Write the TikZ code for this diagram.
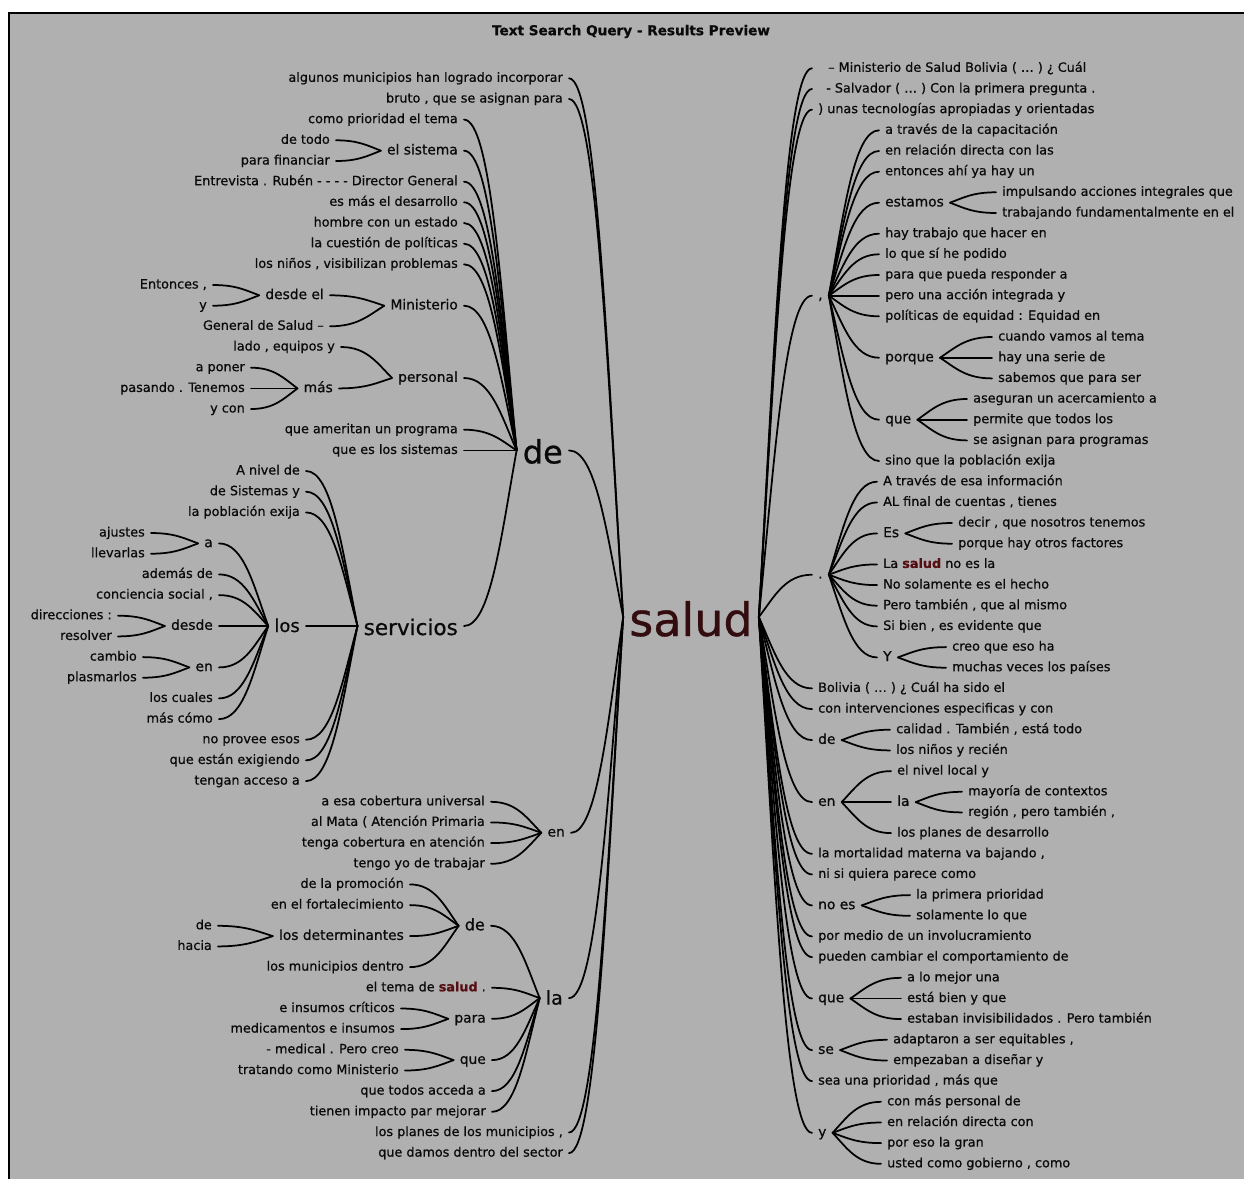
\documentclass[tikz,border=0pt]{standalone}
\usepackage{fontspec}
\setmainfont{DejaVu Sans}[FakeBold=0.7]
\usetikzlibrary{calc}
\definecolor{bg}{RGB}{176,176,176}
\definecolor{ink}{RGB}{10,10,10}
\definecolor{saludc}{RGB}{50,12,14}
\definecolor{saludin}{RGB}{85,14,18}
\newcommand\Lcon[2]{\draw[conn] (#1.east) to (#2.west);}
\newcommand\Rcon[2]{\draw[conn] (#1.west) to (#2.east);}
\newcommand\salin{{\bfseries\color{saludin}salud}}
\tikzset{
  wt/.style={to path={let \p1=(\tikztostart), \p2=(\tikztotarget) in
     .. controls ({\x1+0.5*(\x2-\x1)},\y1) and ({\x2-0.3*(\x2-\x1)},{\y2-0.5*(\y2-\y1)}) .. (\tikztotarget)}},
  conn/.style={wt, line width=1.75pt, draw=black, line cap=round},
  txt/.style={text=ink, inner xsep=6pt, inner ysep=1pt, text depth=0pt},
  leaf/.style={txt, font=\fontsize{12.8}{15}\selectfont, text height=7pt},
  mid/.style={txt, font=\fontsize{13.8}{16}\selectfont, text height=7.5pt},
  L/.style={anchor=east}, R/.style={anchor=west},
  bigsalud/.style={txt, text=saludc, font=\fontsize{46}{50}\selectfont, text height=38pt},
  bigde/.style={txt, font=\fontsize{32}{36}\selectfont, text height=26pt},
  bigserv/.style={txt, font=\fontsize{21.5}{24}\selectfont, text height=18pt},
  biglos/.style={txt, font=\fontsize{18}{20}\selectfont, text height=12pt},
  bigla/.style={txt, font=\fontsize{19}{21}\selectfont, text height=13pt},
  midde/.style={txt, font=\fontsize{16}{18}\selectfont, text height=9pt},
}
\begin{document}
\begin{tikzpicture}[x=1pt,y=-1pt]
\useasboundingbox (0,0) rectangle (1244,1179);
\fill[white] (0,0) rectangle (1244,1179);
\fill[bg] (9,13) rectangle (1244,1179);
\draw[line width=1.5pt] (9,1179) -- (9,13) -- (1244,13);
\node[font=\bfseries\fontsize{13.6}{16}\selectfont, text=ink] (title) at (631,31.5) {Text Search Query - Results Preview};

% ---------- centre
\node[bigsalud] (salud) at (691,617) {salud};

% ---------- left side
\node[leaf,L] (lA) at (569,78.3) {algunos municipios han logrado incorporar};
\node[leaf,L] (lB) at (569,99.0) {bruto , que se asignan para};
\node[bigde,L] (de) at (569,450.4) {de};
\node[mid,L] (en) at (571,832.8) {en};
\node[bigla,L] (la) at (569,998.1) {la};
\node[leaf,L] (lC) at (569,1132.5) {los planes de los municipios ,};
\node[leaf,L] (lD) at (569,1153.1) {que damos dentro del sector};

% de children
\node[leaf,L] (dA) at (464,119.6) {como prioridad el tema};
\node[mid,L] (sis) at (464,150.7) {el sistema};
\node[leaf,L] (sisA) at (336,140.3) {de todo};
\node[leaf,L] (sisB) at (336,161.0) {para financiar};
\node[leaf,L] (dB) at (464,181.7) {Entrevista . Rubén - - - - Director General};
\node[leaf,L] (dC) at (464,202.3) {es más el desarrollo};
\node[leaf,L] (dD) at (464,223.0) {hombre con un estado};
\node[leaf,L] (dE) at (464,243.7) {la cuestión de políticas};
\node[leaf,L] (dF) at (464,264.3) {los niños , visibilizan problemas};
\node[mid,L] (min) at (464,305.7) {Ministerio};
\node[mid,L] (desel) at (330,295.3) {desde el};
\node[leaf,L] (deselA) at (213,285.0) {Entonces ,};
\node[leaf,L] (deselB) at (213,305.7) {y};
\node[leaf,L] (minB) at (330,326.3) {General de Salud –};
\node[mid,L] (per) at (464,378.0) {personal};
\node[leaf,L] (perA) at (341,347.0) {lado , equipos y};
\node[mid,L] (mas) at (339,388.4) {más};
\node[leaf,L] (masA) at (251,367.7) {a poner};
\node[leaf,L] (masB) at (251,388.4) {pasando . Tenemos};
\node[leaf,L] (masC) at (251,409.0) {y con};
\node[leaf,L] (dG) at (464,429.7) {que ameritan un programa};
\node[leaf,L] (dH) at (464,450.4) {que es los sistemas};
\node[bigserv,L] (serv) at (464,626) {servicios};
\node[leaf,L] (svA) at (306,471.0) {A nivel de};
\node[leaf,L] (svB) at (306,491.7) {de Sistemas y};
\node[leaf,L] (svC) at (306,512.4) {la población exija};
\node[biglos,L] (los) at (306,626) {los};
\node[mid,L] (a) at (219,543.4) {a};
\node[leaf,L] (aA) at (151,533.0) {ajustes};
\node[leaf,L] (aB) at (151,553.7) {llevarlas};
\node[leaf,L] (losB) at (219,574.4) {además de};
\node[leaf,L] (losC) at (219,595.1) {conciencia social ,};
\node[mid,L] (desde) at (219,626) {desde};
\node[leaf,L] (dsA) at (118,615.7) {direcciones :};
\node[leaf,L] (dsB) at (118,636.4) {resolver};
\node[mid,L] (enl) at (219,667.4) {en};
\node[leaf,L] (enA) at (143,657.1) {cambio};
\node[leaf,L] (enB) at (143,677.7) {plasmarlos};
\node[leaf,L] (losD) at (219,698.4) {los cuales};
\node[leaf,L] (losE) at (219,719.1) {más cómo};
\node[leaf,L] (svD) at (306,739.7) {no provee esos};
\node[leaf,L] (svE) at (306,760.4) {que están exigiendo};
\node[leaf,L] (svF) at (306,781.1) {tengan acceso a};

% en children
\node[leaf,L] (enS1) at (491,801.8) {a esa cobertura universal};
\node[leaf,L] (enS2) at (491,822.4) {al Mata ( Atención Primaria};
\node[leaf,L] (enS3) at (491,843.1) {tenga cobertura en atención};
\node[leaf,L] (enS4) at (491,863.8) {tengo yo de trabajar};

% la children
\node[midde,L] (lade) at (491,925.8) {de};
\node[leaf,L] (ldA) at (410,884.4) {de la promoción};
\node[leaf,L] (ldB) at (410,905.1) {en el fortalecimiento};
\node[mid,L] (det) at (410,936.1) {los determinantes};
\node[leaf,L] (detA) at (218,925.8) {de};
\node[leaf,L] (detB) at (218,946.4) {hacia};
\node[leaf,L] (ldC) at (410,967.1) {los municipios dentro};
\node[leaf,L] (laA) at (492,987.8) {el tema de \salin\ .};
\node[mid,L] (para) at (492,1018.8) {para};
\node[leaf,L] (paA) at (401,1008.5) {e insumos críticos};
\node[leaf,L] (paB) at (401,1029.1) {medicamentos e insumos};
\node[mid,L] (que) at (492,1060.1) {que};
\node[leaf,L] (quA) at (405,1049.8) {- medical . Pero creo};
\node[leaf,L] (quB) at (405,1070.5) {tratando como Ministerio};
\node[leaf,L] (laB) at (492,1091.1) {que todos acceda a};
\node[leaf,L] (laC) at (492,1111.8) {tienen impacto par mejorar};

% ---------- right side
\node[leaf,R] (rA) at (812,68.3) {\hspace*{10pt}– Ministerio de Salud Bolivia ( … ) ¿ Cuál};
\node[leaf,R] (rB) at (812,89.0) {\hspace*{8pt}- Salvador ( … ) Con la primera pregunta .};
\node[leaf,R] (rC) at (812,109.6) {) unas tecnologías apropiadas y orientadas};
\node[mid,R] (comma) at (812,295.7) {,};
\node[leaf,R] (cA) at (879,130.3) {a través de la capacitación};
\node[leaf,R] (cB) at (879,151.0) {en relación directa con las};
\node[leaf,R] (cC) at (879,171.7) {entonces ahí ya hay un};
\node[mid,R] (est) at (879,202.7) {estamos};
\node[leaf,R] (esA) at (996,192.3) {impulsando acciones integrales que};
\node[leaf,R] (esB) at (996,213.0) {trabajando fundamentalmente en el};
\node[leaf,R] (cD) at (879,233.7) {hay trabajo que hacer en};
\node[leaf,R] (cE) at (879,254.3) {lo que sí he podido};
\node[leaf,R] (cF) at (879,275.0) {para que pueda responder a};
\node[leaf,R] (cG) at (879,295.7) {pero una acción integrada y};
\node[leaf,R] (cH) at (879,316.3) {políticas de equidad : Equidad en};
\node[mid,R] (porq) at (879,357.7) {porque};
\node[leaf,R] (pqA) at (992,337.0) {cuando vamos al tema};
\node[leaf,R] (pqB) at (992,357.7) {hay una serie de};
\node[leaf,R] (pqC) at (992,378.4) {sabemos que para ser};
\node[mid,R] (cque) at (879,419.7) {que};
\node[leaf,R] (cqA) at (967,399.0) {aseguran un acercamiento a};
\node[leaf,R] (cqB) at (967,419.7) {permite que todos los};
\node[leaf,R] (cqC) at (967,440.4) {se asignan para programas};
\node[leaf,R] (cI) at (879,461.0) {sino que la población exija};
\node[mid,R] (dot) at (812,574.7) {.};
\node[leaf,R] (pA) at (877,481.7) {A través de esa información};
\node[leaf,R] (pB) at (877,502.4) {AL final de cuentas , tienes};
\node[mid,R] (Es) at (877,533.4) {Es};
\node[leaf,R] (EsA) at (952,523.0) {decir , que nosotros tenemos};
\node[leaf,R] (EsB) at (952,543.7) {porque hay otros factores};
\node[leaf,R] (pC) at (877,564.4) {La \salin\ no es la};
\node[leaf,R] (pD) at (877,585.1) {No solamente es el hecho};
\node[leaf,R] (pE) at (877,605.7) {Pero también , que al mismo};
\node[leaf,R] (pF) at (877,626.4) {Si bien , es evidente que};
\node[mid,R] (Y) at (877,657.4) {Y};
\node[leaf,R] (YA) at (946,647.1) {creo que eso ha};
\node[leaf,R] (YB) at (946,667.7) {muchas veces los países};
\node[leaf,R] (rD) at (812,688.4) {Bolivia ( … ) ¿ Cuál ha sido el};
\node[leaf,R] (rE) at (812,709.1) {con intervenciones especificas y con};
\node[mid,R] (rde) at (812,740.1) {de};
\node[leaf,R] (rdA) at (890,729.7) {calidad . También , está todo};
\node[leaf,R] (rdB) at (890,750.4) {los niños y recién};
\node[mid,R] (ren) at (812,802.1) {en};
\node[leaf,R] (reA) at (891,771.1) {el nivel local y};
\node[mid,R] (rla) at (891,802.1) {la};
\node[leaf,R] (rlA) at (962,791.8) {mayoría de contextos};
\node[leaf,R] (rlB) at (962,812.4) {región , pero también ,};
\node[leaf,R] (reB) at (891,833.1) {los planes de desarrollo};
\node[leaf,R] (rF) at (812,853.8) {la mortalidad materna va bajando ,};
\node[leaf,R] (rG) at (812,874.4) {ni si quiera parece como};
\node[mid,R] (noes) at (812,905.4) {no es};
\node[leaf,R] (neA) at (910,895.1) {la primera prioridad};
\node[leaf,R] (neB) at (910,915.8) {solamente lo que};
\node[leaf,R] (rH) at (812,936.4) {por medio de un involucramiento};
\node[leaf,R] (rI) at (812,957.1) {pueden cambiar el comportamiento de};
\node[mid,R] (rque) at (812,998.5) {que};
\node[leaf,R] (rqA) at (901,977.8) {a lo mejor una};
\node[leaf,R] (rqB) at (901,998.5) {está bien y que};
\node[leaf,R] (rqC) at (901,1019.1) {estaban invisibilidados . Pero también};
\node[mid,R] (se) at (812,1050.1) {se};
\node[leaf,R] (seA) at (887,1039.8) {adaptaron a ser equitables ,};
\node[leaf,R] (seB) at (887,1060.5) {empezaban a diseñar y};
\node[leaf,R] (rJ) at (812,1081.1) {sea una prioridad , más que};
\node[mid,R] (ry) at (812,1132.8) {y};
\node[leaf,R] (yA) at (881,1101.8) {con más personal de};
\node[leaf,R] (yB) at (881,1122.5) {en relación directa con};
\node[leaf,R] (yC) at (881,1143.1) {por eso la gran};
\node[leaf,R] (yD) at (881,1163.8) {usted como gobierno , como};

% ---------- connectors left
\foreach \c in {lA,lB,de,en,la,lC,lD} {\Lcon{\c}{salud}}
\foreach \c in {dA,sis,dB,dC,dD,dE,dF,min,per,dG,dH,serv} {\Lcon{\c}{de}}
\foreach \c in {sisA,sisB} {\Lcon{\c}{sis}}
\foreach \c in {desel,minB} {\Lcon{\c}{min}}
\foreach \c in {deselA,deselB} {\Lcon{\c}{desel}}
\foreach \c in {perA,mas} {\Lcon{\c}{per}}
\foreach \c in {masA,masB,masC} {\Lcon{\c}{mas}}
\foreach \c in {svA,svB,svC,los,svD,svE,svF} {\Lcon{\c}{serv}}
\foreach \c in {a,losB,losC,desde,enl,losD,losE} {\Lcon{\c}{los}}
\foreach \c in {aA,aB} {\Lcon{\c}{a}}
\foreach \c in {dsA,dsB} {\Lcon{\c}{desde}}
\foreach \c in {enA,enB} {\Lcon{\c}{enl}}
\foreach \c in {enS1,enS2,enS3,enS4} {\Lcon{\c}{en}}
\foreach \c in {lade,laA,para,que,laB,laC} {\Lcon{\c}{la}}
\foreach \c in {ldA,ldB,det,ldC} {\Lcon{\c}{lade}}
\foreach \c in {detA,detB} {\Lcon{\c}{det}}
\foreach \c in {paA,paB} {\Lcon{\c}{para}}
\foreach \c in {quA,quB} {\Lcon{\c}{que}}

% ---------- connectors right
\foreach \c in {rA,rB,rC,comma,dot,rD,rE,rde,ren,rF,rG,noes,rH,rI,rque,se,rJ,ry} {\Rcon{\c}{salud}}
\foreach \c in {cA,cB,cC,est,cD,cE,cF,cG,cH,porq,cque,cI} {\Rcon{\c}{comma}}
\foreach \c in {esA,esB} {\Rcon{\c}{est}}
\foreach \c in {pqA,pqB,pqC} {\Rcon{\c}{porq}}
\foreach \c in {cqA,cqB,cqC} {\Rcon{\c}{cque}}
\foreach \c in {pA,pB,Es,pC,pD,pE,pF,Y} {\Rcon{\c}{dot}}
\foreach \c in {EsA,EsB} {\Rcon{\c}{Es}}
\foreach \c in {YA,YB} {\Rcon{\c}{Y}}
\foreach \c in {rdA,rdB} {\Rcon{\c}{rde}}
\foreach \c in {reA,rla,reB} {\Rcon{\c}{ren}}
\foreach \c in {rlA,rlB} {\Rcon{\c}{rla}}
\foreach \c in {neA,neB} {\Rcon{\c}{noes}}
\foreach \c in {rqA,rqB,rqC} {\Rcon{\c}{rque}}
\foreach \c in {seA,seB} {\Rcon{\c}{se}}
\foreach \c in {yA,yB,yC,yD} {\Rcon{\c}{ry}}
\end{tikzpicture}
\end{document}
